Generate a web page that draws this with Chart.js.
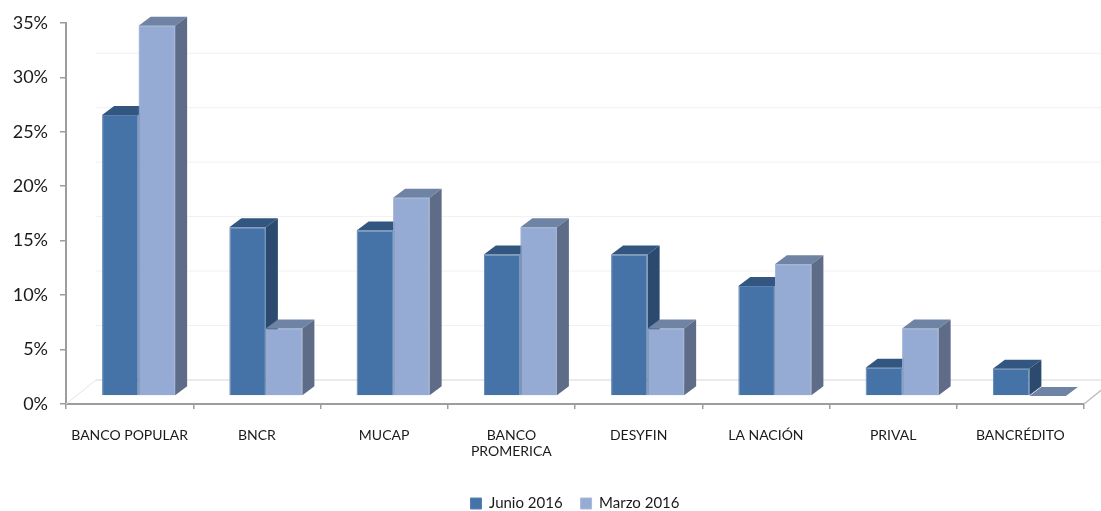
<!DOCTYPE html>
<html>
<head>
<meta charset="utf-8">
<script src="https://cdn.jsdelivr.net/npm/chart.js@4.4.1/dist/chart.umd.min.js"></script>
<style>
  html, body { margin: 0; padding: 0; background: #fff; }
  #wrap { width: 1101px; height: 511px; }
</style>
</head>
<body>
<div id="wrap"><canvas id="bankChart" width="1101" height="511"></canvas></div>
<script>
// Chart data
const categories = ['BANCO POPULAR', 'BNCR', 'MUCAP', ['BANCO', 'PROMERICA'], 'DESYFIN', 'LA NACIÓN', 'PRIVAL', 'BANCRÉDITO'];
const junio2016 = [25.8, 15.5, 15.2, 13.0, 13.0, 10.1, 2.6, 2.5];
const marzo2016 = [34.0, 6.2, 18.2, 15.5, 6.2, 12.1, 6.2, 0];
const yTickLabels = ['0%', '5%', '10%', '15%', '20%', '25%', '30%', '35%'];

// 3D look: bars sit a bit back on the floor, with a top and a side face
const SHIFT_X = 9, SHIFT_Y = -8;
const DEPTH_X = 12, DEPTH_Y = -9;
const WALL_X = 30, WALL_Y = -24;
const faceColors = [
    { top: '#32567F', side: '#2C4A6F' },
    { top: '#6F83A4', side: '#5E6C88' }
];
const axisColor = '#9d9d9d';
const textColor = '#1a1a1a';

function drawFaces(ctx, bar, c) {
    const { x, y, base, width } = bar.getProps(['x', 'y', 'base', 'width'], true);
    const x0 = x - width / 2, x1 = x + width / 2;
    // top face
    ctx.fillStyle = c.top;
    ctx.beginPath();
    ctx.moveTo(x0, y);
    ctx.lineTo(x1, y);
    ctx.lineTo(x1 + DEPTH_X, y + DEPTH_Y);
    ctx.lineTo(x0 + DEPTH_X, y + DEPTH_Y);
    ctx.closePath();
    ctx.fill();
    // side face
    ctx.fillStyle = c.side;
    ctx.beginPath();
    ctx.moveTo(x1, y);
    ctx.lineTo(x1 + DEPTH_X, y + DEPTH_Y);
    ctx.lineTo(x1 + DEPTH_X, base + DEPTH_Y);
    ctx.lineTo(x1, base);
    ctx.closePath();
    ctx.fill();
}

const bars3d = {
    id: 'bars3d',
    beforeDatasetsDraw(chart) {
        const { ctx, chartArea, scales: { y } } = chart;
        ctx.save();
        // faint gridlines on the back wall
        ctx.lineWidth = 1;
        yTickLabels.forEach((t, i) => {
            const py = y.getPixelForValue(i * 5) + WALL_Y;
            if (py < 0) return;
            ctx.strokeStyle = i === 0 ? '#d6d6d6' : '#f1f1f1';
            ctx.beginPath();
            ctx.moveTo(chartArea.left + WALL_X, py);
            ctx.lineTo(chart.width, py);
            ctx.stroke();
        });
        // floor edges
        ctx.strokeStyle = '#e4e4e4';
        ctx.beginPath();
        ctx.moveTo(chartArea.left, chartArea.bottom);
        ctx.lineTo(chartArea.left + WALL_X, chartArea.bottom + WALL_Y);
        ctx.stroke();
        ctx.strokeStyle = '#bdbdbd';
        ctx.lineWidth = 1.5;
        ctx.beginPath();
        ctx.moveTo(chartArea.right, chartArea.bottom);
        ctx.lineTo(chartArea.right + WALL_X, chartArea.bottom + WALL_Y);
        ctx.stroke();
        ctx.restore();
    },
    beforeDatasetDraw(chart) {
        chart.ctx.save();
        chart.ctx.translate(SHIFT_X, SHIFT_Y);
    },
    afterDatasetDraw(chart) {
        chart.ctx.restore();
    },
    afterDatasetsDraw(chart) {
        const ctx = chart.ctx;
        const junioBars = chart.getDatasetMeta(0).data;
        const marzoBars = chart.getDatasetMeta(1).data;
        ctx.save();
        ctx.translate(SHIFT_X, SHIFT_Y);
        junioBars.forEach((bar, i) => {
            drawFaces(ctx, bar, faceColors[0]);
            // the second bar stands in front of the first one's side face
            marzoBars[i].draw(ctx);
            drawFaces(ctx, marzoBars[i], faceColors[1]);
        });
        ctx.restore();
    }
};

const ctx = document.getElementById('bankChart').getContext('2d');

new Chart(ctx, {
    type: 'bar',
    data: {
        labels: categories,
        datasets: [
            {
                label: 'Junio 2016',
                data: junio2016,
                backgroundColor: '#4572A7',
                borderColor: '#5881B4',
                borderWidth: 1,
                clip: false
            },
            {
                label: 'Marzo 2016',
                data: marzo2016,
                backgroundColor: '#96ABD3',
                borderColor: '#A7BADC',
                borderWidth: 1,
                clip: false
            }
        ]
    },
    options: {
        responsive: false,
        animation: false,
        layout: {
            padding: { top: 20, right: 17, left: 0, bottom: -10 }
        },
        datasets: {
            bar: { categoryPercentage: 0.574, barPercentage: 1.0 }
        },
        scales: {
            x: {
                grid: { drawOnChartArea: false, drawTicks: true, tickLength: 5, color: axisColor, lineWidth: 1.5 },
                border: { color: axisColor, width: 2 },
                ticks: {
                    color: textColor,
                    padding: 18,
                    maxRotation: 0,
                    autoSkip: false,
                    font: { family: 'Lato', size: 14, lineHeight: 1.15 }
                },
                afterFit(scale) { scale.height = 74; }
            },
            y: {
                min: 0,
                max: 35,
                grid: { drawOnChartArea: false, drawTicks: true, tickLength: 6, color: axisColor, lineWidth: 1.5 },
                border: { color: axisColor, width: 2 },
                ticks: {
                    stepSize: 5,
                    color: textColor,
                    padding: 12,
                    font: { family: 'Lato', size: 18 },
                    callback: (value, index) => yTickLabels[index]
                },
                afterFit(scale) { scale.width = 66; }
            }
        },
        plugins: {
            legend: {
                position: 'bottom',
                fullSize: false,
                labels: {
                    boxWidth: 11,
                    boxHeight: 11,
                    padding: 18,
                    color: textColor,
                    font: { family: 'Lato', size: 15 }
                }
            },
            tooltip: { enabled: false }
        }
    },
    plugins: [bars3d]
});
</script>
</body>
</html>
